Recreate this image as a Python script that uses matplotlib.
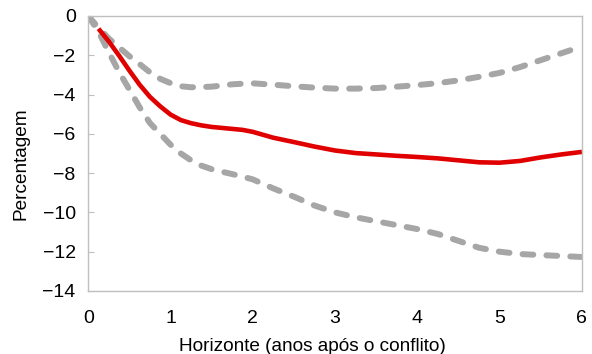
import matplotlib
matplotlib.use("Agg")
import matplotlib.pyplot as plt

plt.rcParams["font.family"] = ["Liberation Sans", "DejaVu Sans"]

# horizon in years after the conflict
x_mid = [0.125, 0.25, 0.375, 0.5, 0.625, 0.75, 0.875, 1.0, 1.125, 1.25, 1.375, 1.5, 1.625, 1.75, 1.875,
         2.0, 2.25, 2.5, 2.75, 3.0, 3.25, 3.5, 3.75, 4.0, 4.25, 4.5, 4.75, 5.0, 5.25, 5.5, 5.75, 6.0]
estimate = [-0.65, -1.3, -2.02, -2.78, -3.5, -4.12, -4.6, -5.02, -5.3, -5.46, -5.57, -5.65, -5.7, -5.75, -5.8,
            -5.9, -6.2, -6.42, -6.65, -6.85, -6.98, -7.05, -7.12, -7.18, -7.25, -7.35, -7.45, -7.47, -7.38,
            -7.2, -7.05, -6.92]

x_band = [0.0, 0.125, 0.25, 0.375, 0.5, 0.625, 0.75, 0.875, 1.0, 1.125, 1.25, 1.375, 1.5, 1.625, 1.75, 1.875,
          2.0, 2.25, 2.5, 2.75, 3.0, 3.25, 3.5, 3.75, 4.0, 4.25, 4.5, 4.75, 5.0, 5.25, 5.5, 5.75, 6.0]
upper = [0.0, -0.6, -1.15, -1.6, -2.05, -2.45, -2.87, -3.2, -3.42, -3.58, -3.63, -3.62, -3.6, -3.54, -3.48,
         -3.45, -3.43, -3.5, -3.58, -3.65, -3.7, -3.7, -3.67, -3.6, -3.52, -3.42, -3.28, -3.1, -2.9, -2.6,
         -2.25, -1.9, -1.55]
lower = [0.0, -0.8, -1.85, -2.85, -3.75, -4.65, -5.45, -6.0, -6.55, -7.0, -7.35, -7.62, -7.8, -7.93, -8.05,
         -8.18, -8.32, -8.78, -9.2, -9.65, -10.0, -10.25, -10.45, -10.65, -10.85, -11.1, -11.45, -11.8, -12.0,
         -12.12, -12.17, -12.22, -12.27]

fig = plt.figure(figsize=(5.92, 3.54), dpi=100)
ax = fig.add_axes([0.149, 0.178, 0.834, 0.777])

grey = "#a6a6a6"
ax.plot(x_band, upper, color=grey, lw=4.3, dashes=(1.8, 2.2), dash_capstyle="round")
ax.plot(x_band, lower, color=grey, lw=4.3, dashes=(1.8, 2.2), dash_capstyle="round")
ax.plot(x_mid, estimate, color="#e00000", lw=3.3, solid_capstyle="butt")

ax.set_xlim(0, 6)
ax.set_ylim(-14, 0)
ax.set_xticks(range(0, 7))
ax.set_yticks(range(-14, 1, 2))
ax.set_yticklabels([str(v).replace("-", "\u2212") for v in range(-14, 1, 2)])

for s in ax.spines.values():
    s.set_color("#bfbfbf")
    s.set_linewidth(1.0)
ax.tick_params(axis="x", length=0, labelsize=14, pad=14)
ax.tick_params(axis="y", direction="in", length=4, color="#bfbfbf", labelsize=14, pad=9)

ax.set_xlabel("Horizonte (anos após o conflito)", fontsize=13.7, labelpad=0)
ax.xaxis.set_label_coords(0.455, -0.172)
ax.set_ylabel("Percentagem", fontsize=13.7, labelpad=2)
ax.yaxis.set_label_coords(-0.118, 0.464)

fig.savefig("out.png", dpi=100)
